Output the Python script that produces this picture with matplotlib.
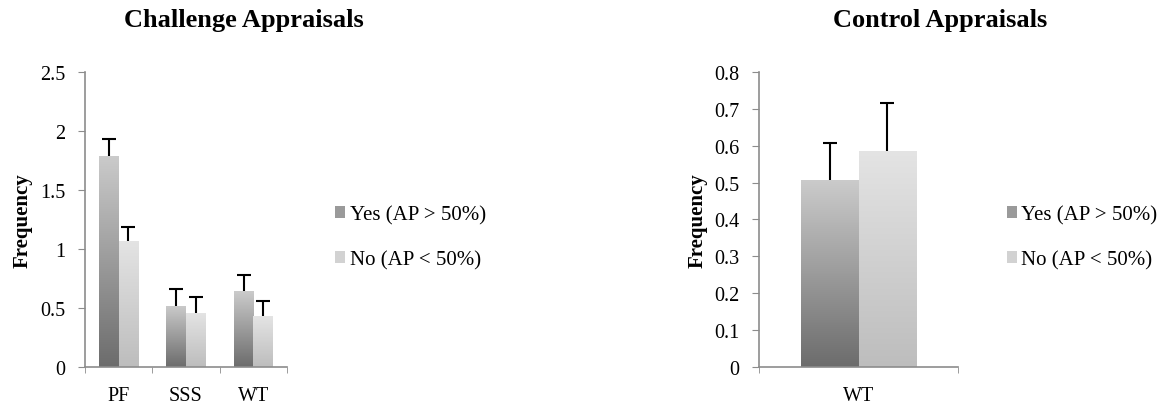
import numpy as np
import matplotlib
matplotlib.use("Agg")
import matplotlib.pyplot as plt
from matplotlib.patches import Patch
from matplotlib.colors import LinearSegmentedColormap

plt.rcParams['font.family'] = ['Liberation Serif', 'DejaVu Serif']

# ---- data ----
series = ["Yes (AP > 50%)", "No (AP < 50%)"]
challenge_cats = ["PF", "SSS", "WT"]
challenge_yes = [1.79, 0.52, 0.64]
challenge_no = [1.07, 0.46, 0.43]
challenge_yes_err = [0.14, 0.14, 0.14]
challenge_no_err = [0.12, 0.13, 0.13]

control_cats = ["WT"]
control_yes = [0.507]
control_no = [0.586]
control_yes_err = [0.10]
control_no_err = [0.13]

challenge_yticks = [0, 0.5, 1, 1.5, 2, 2.5]
challenge_yticklabels = ["0", "0.5", "1", "1.5", "2", "2.5"]
control_yticks = [0, 0.1, 0.2, 0.3, 0.4, 0.5, 0.6, 0.7, 0.8]
control_yticklabels = ["0", "0.1", "0.2", "0.3", "0.4", "0.5", "0.6", "0.7", "0.8"]

# ---- style ----
cmap_yes = LinearSegmentedColormap.from_list("yes", ["#6c6c6c", "#cbcbcb"])
cmap_no = LinearSegmentedColormap.from_list("no", ["#bdbdbd", "#e4e4e4"])
spine_color = "#8c8c8c"
FS = 14.5
W = 0.29

fig = plt.figure(figsize=(11.64, 4.06), dpi=100)
ax1 = fig.add_axes([0.0730, 0.0936, 0.1735, 0.7266])
ax2 = fig.add_axes([0.6521, 0.0936, 0.1710, 0.7266])


def grad_bars(ax, x, vals, cmap):
    bars = ax.bar(x, vals, W, color="none", edgecolor="none", zorder=2)
    grad = np.linspace(1, 0, 256).reshape(-1, 1)
    for p in bars.patches:
        x0, y0 = p.get_x(), p.get_y()
        im = ax.imshow(grad, cmap=cmap, vmin=0, vmax=1, aspect="auto",
                       extent=[x0, x0 + p.get_width(), y0, y0 + p.get_height()],
                       zorder=2, interpolation="bilinear")
        im.set_clip_path(p)
    return bars


def err_up(ax, x, vals, errs):
    vals = np.asarray(vals)
    errs = np.asarray(errs)
    ax.errorbar(x, vals, yerr=[np.zeros(len(vals)), errs], fmt="none",
                ecolor="black", elinewidth=1.5, capsize=0, zorder=3)
    ax.plot(x, vals + errs, linestyle="none", marker="_", markersize=10,
            markeredgewidth=1.5, color="black", zorder=3)


def draw(ax, cats, yes, no, yerr, nerr, yticks, yticklabels, ymax, title, title_x,
         leg_x):
    x = np.arange(len(cats))
    grad_bars(ax, x - W / 2, yes, cmap_yes)
    grad_bars(ax, x + W / 2, no, cmap_no)
    err_up(ax, x - W / 2, yes, yerr)
    err_up(ax, x + W / 2, no, nerr)
    ax.set_xlim(-0.5, len(cats) - 0.5)
    ax.set_ylim(0, ymax)
    ax.set_yticks(yticks)
    ax.set_yticklabels(yticklabels, fontsize=FS)
    ax.set_xticks(x)
    ax.set_xticklabels(cats, fontsize=FS)
    ax.set_xticks(np.arange(len(cats) + 1) - 0.5, minor=True)
    ax.tick_params(axis="x", which="major", length=0, pad=14)
    ax.tick_params(axis="x", which="minor", length=4.5, color=spine_color, direction="out")
    ax.tick_params(axis="y", length=5, color=spine_color, direction="out", pad=9)
    for s in ["top", "right"]:
        ax.spines[s].set_visible(False)
    for s in ["left", "bottom"]:
        ax.spines[s].set_color(spine_color)
        ax.spines[s].set_linewidth(1.2)
    ax.set_ylabel("Frequency", fontsize=15, fontweight="bold")
    ax.yaxis.set_label_coords(-0.26, 0.5)
    handles = [Patch(facecolor="#9a9a9a", edgecolor="none"),
               Patch(facecolor="#d2d2d2", edgecolor="none")]
    ax.legend(handles, series, loc="center left", bbox_to_anchor=(leg_x, 0.44),
              frameon=False, fontsize=15, handlelength=0.5, handleheight=0.5,
              handletextpad=0.2, labelspacing=1.25)
    fig.text(title_x, 1 - 21 / 406, title, ha="center", va="center",
             fontsize=19, fontweight="bold")


draw(ax1, challenge_cats, challenge_yes, challenge_no, challenge_yes_err,
     challenge_no_err, challenge_yticks, challenge_yticklabels, 2.5,
     "Challenge Appraisals", 244 / 1164, 1.145)
draw(ax2, control_cats, control_yes, control_no, control_yes_err,
     control_no_err, control_yticks, control_yticklabels, 0.8,
     "Control Appraisals", 940 / 1164, 1.15)

fig.savefig("out.png", dpi=100)
